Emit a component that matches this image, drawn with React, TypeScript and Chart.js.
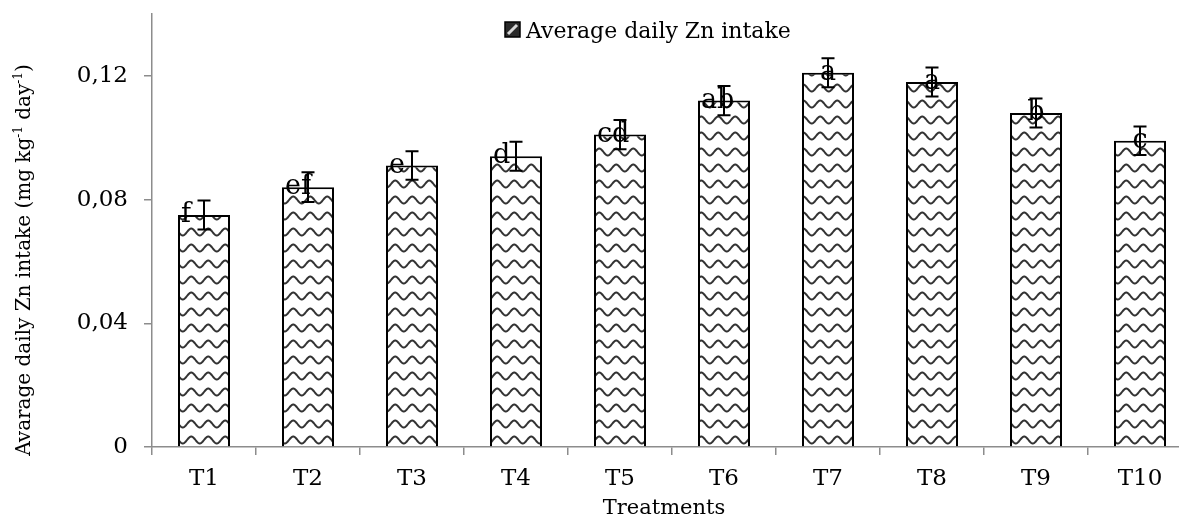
import React, { useEffect, useRef } from 'react';
import { Chart, registerables } from 'chart.js';

Chart.register(...registerables);

const categories = ['T1', 'T2', 'T3', 'T4', 'T5', 'T6', 'T7', 'T8', 'T9', 'T10'];
const intake = [0.075, 0.084, 0.091, 0.094, 0.101, 0.112, 0.121, 0.118, 0.108, 0.099];
const errors = [0.0047, 0.0048, 0.0046, 0.0047, 0.0047, 0.0047, 0.0047, 0.0047, 0.0047, 0.0046];
const letters = ['f', 'ef', 'e', 'd', 'cd', 'ab', 'a', 'a', 'b', 'c'];
const yTicks = [0, 0.04, 0.08, 0.12];
const yTickLabels = ['0', '0,04', '0,08', '0,12'];
const yMax = 0.14;
const legendLabel = 'Average daily Zn intake';
const xTitle = 'Treatments';
const yTitleParts: { t: string; sup: boolean }[] = [
  { t: 'Avarage daily Zn intake (mg kg', sup: false },
  { t: '-1', sup: true },
  { t: ' day', sup: false },
  { t: '-1', sup: true },
  { t: ')', sup: false },
];

const FONT = '"DejaVu Serif", "Liberation Serif", serif';

function makeWavePattern(ctx: CanvasRenderingContext2D) {
  const w = 17;
  const h = 16;
  const c = document.createElement('canvas');
  c.width = w;
  c.height = h;
  const g = c.getContext('2d')!;
  g.fillStyle = '#ffffff';
  g.fillRect(0, 0, w, h);
  g.strokeStyle = '#333333';
  g.lineWidth = 2;
  g.beginPath();
  for (let x = -3; x <= w + 3; x += 0.5) {
    const y = h / 2 - 3.4 * Math.sin((2 * Math.PI * x) / w);
    if (x === -3) g.moveTo(x, y);
    else g.lineTo(x, y);
  }
  g.stroke();
  return ctx.createPattern(c, 'repeat')!;
}

const overlayPlugin = {
  id: 'overlay',
  afterDatasetsDraw(chart: any) {
    const ctx: CanvasRenderingContext2D = chart.ctx;
    const meta = chart.getDatasetMeta(0);
    const ys = chart.scales.y;
    ctx.save();
    // letters
    ctx.fillStyle = '#000';
    ctx.font = `27px ${FONT}`;
    ctx.textBaseline = 'alphabetic';
    meta.data.forEach((bar: any, i: number) => {
      if (i < 6) {
        ctx.textAlign = 'left';
        ctx.fillText(letters[i], bar.x - 23, bar.y + 7);
      } else {
        ctx.textAlign = 'center';
        ctx.fillText(letters[i], bar.x, bar.y + 7);
      }
    });
    // error bars
    ctx.strokeStyle = '#000';
    ctx.lineWidth = 2;
    meta.data.forEach((bar: any, i: number) => {
      const yTop = ys.getPixelForValue(intake[i] + errors[i]);
      const yBot = ys.getPixelForValue(intake[i] - errors[i]);
      const x = Math.round(bar.x);
      ctx.beginPath();
      ctx.moveTo(x, yTop);
      ctx.lineTo(x, yBot);
      ctx.moveTo(x - 6.5, yTop);
      ctx.lineTo(x + 6.5, yTop);
      ctx.moveTo(x - 6.5, yBot);
      ctx.lineTo(x + 6.5, yBot);
      ctx.stroke();
    });
    // legend
    const bx = 505;
    const by = 22;
    const bs = 15;
    ctx.fillStyle = '#2a2a2a';
    ctx.fillRect(bx, by, bs, bs);
    ctx.strokeStyle = '#d8d8d8';
    ctx.lineWidth = 3;
    ctx.beginPath();
    ctx.moveTo(bx + 3, by + bs - 3);
    ctx.lineTo(bx + bs - 3, by + 3);
    ctx.stroke();
    ctx.strokeStyle = '#000';
    ctx.lineWidth = 1.5;
    ctx.strokeRect(bx, by, bs, bs);
    ctx.fillStyle = '#000';
    ctx.font = `22px ${FONT}`;
    ctx.textAlign = 'left';
    ctx.textBaseline = 'alphabetic';
    ctx.fillText(legendLabel, 526, 38);
    // x title
    ctx.font = `21px ${FONT}`;
    ctx.textAlign = 'center';
    ctx.fillText(xTitle, 664, 514);
    // y title
    ctx.translate(30, 260);
    ctx.rotate(-Math.PI / 2);
    const mainF = `20px ${FONT}`;
    const supF = `12px ${FONT}`;
    let total = 0;
    yTitleParts.forEach((p) => {
      ctx.font = p.sup ? supF : mainF;
      total += ctx.measureText(p.t).width;
    });
    let cx = -total / 2;
    ctx.textAlign = 'left';
    yTitleParts.forEach((p) => {
      ctx.font = p.sup ? supF : mainF;
      ctx.fillText(p.t, cx, p.sup ? -8 : 0);
      cx += ctx.measureText(p.t).width;
    });
    ctx.restore();
  },
};

export default function App() {
  const ref = useRef<HTMLCanvasElement>(null);
  useEffect(() => {
    const canvas = ref.current!;
    const ctx = canvas.getContext('2d')!;
    const pattern = makeWavePattern(ctx);
    const chart = new Chart(canvas, {
      type: 'bar',
      data: {
        labels: categories,
        datasets: [
          {
            label: legendLabel,
            data: intake,
            backgroundColor: pattern as any,
            borderColor: '#000',
            borderWidth: 2,
            barPercentage: 0.5,
            categoryPercentage: 1,
          },
        ],
      },
      options: {
        animation: false,
        responsive: true,
        maintainAspectRatio: false,
        layout: { padding: { top: 14, right: 8, bottom: 0, left: 0 } },
        plugins: {
          legend: { display: false },
          tooltip: { enabled: false },
        },
        scales: {
          x: {
            offset: true,
            grid: {
              display: true,
              drawOnChartArea: false,
              offset: true,
              tickLength: 8,
              color: '#8c8c8c',
              lineWidth: 1.5,
            },
            border: { display: true, color: '#8c8c8c', width: 1.5 },
            ticks: {
              color: '#000',
              font: { family: FONT, size: 23 },
              padding: 10,
            },
            afterFit: (scale: any) => {
              scale.height = 73;
              scale.paddingLeft = 0;
              scale.paddingRight = 0;
            },
          },
          y: {
            min: 0,
            max: yMax,
            afterBuildTicks: (scale: any) => {
              scale.ticks = yTicks.map((v) => ({ value: v }));
            },
            grid: {
              display: true,
              drawOnChartArea: false,
              tickLength: 8,
              color: '#8c8c8c',
              lineWidth: 1.5,
            },
            border: { display: true, color: '#8c8c8c', width: 1.5 },
            ticks: {
              color: '#000',
              font: { family: FONT, size: 23 },
              padding: 16,
              callback: (_v: any, i: number) => yTickLabels[i],
            },
            afterFit: (scale: any) => {
              scale.width = 152;
              scale.paddingTop = 0;
              scale.paddingBottom = 0;
            },
          },
        },
      },
      plugins: [overlayPlugin],
    });
    return () => chart.destroy();
  }, []);
  return (
    <div style={{ position: 'fixed', left: 0, top: 0, width: 1179, height: 520, overflow: 'hidden', background: '#fff' }}>
      <div style={{ position: 'relative', width: 1200, height: 520 }}>
        <canvas ref={ref} />
      </div>
    </div>
  );
}
